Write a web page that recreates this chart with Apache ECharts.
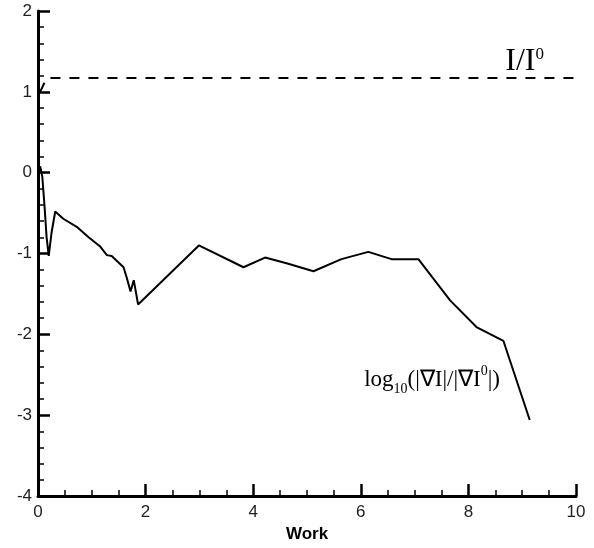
<!DOCTYPE html>
<html>
<head>
<meta charset="utf-8">
<script src="https://cdn.jsdelivr.net/npm/echarts@6/dist/echarts.min.js"></script>
<style>
  html, body { margin: 0; padding: 0; background: #fff; }
  #main { width: 594px; height: 548px; }
</style>
</head>
<body>
<div id="main"></div>
<script>
// work values (x) and log10(|grad I|/|grad I0|) (y)
var workX = [0.04, 0.08, 0.12, 0.16, 0.2, 0.25, 0.32, 0.47, 0.72, 0.94, 1.15, 1.28, 1.37, 1.59, 1.65, 1.72, 1.78, 1.86,
  2.99, 3.82, 4.22, 4.62, 5.12, 5.64, 6.14, 6.57, 7.07, 7.66, 8.15, 8.65, 9.14];
var gradLog = [0.08, -0.05, -0.4, -0.8, -1.03, -0.75, -0.48, -0.57, -0.67, -0.8, -0.91, -1.02, -1.03, -1.17, -1.3, -1.47, -1.33, -1.63,
  -0.9, -1.17, -1.05, -1.12, -1.22, -1.07, -0.98, -1.07, -1.07, -1.58, -1.91, -2.08, -3.06];
// I/I0 ratio
var ratioX = [0.04, 0.16, 10];
var ratioY = [1.0, 1.17, 1.17];

var xTicks = [0, 2, 4, 6, 8, 10];
var yTicks = [-4, -3, -2, -1, 0, 1, 2];

function pairs(xs, ys) {
  return xs.map(function (x, i) { return [x, ys[i]]; });
}

var chart = echarts.init(document.getElementById('main'), null, { renderer: 'canvas' });

var tickFont = { color: '#222', fontSize: 17, fontFamily: 'Liberation Sans' };

var option = {
  animation: false,
  backgroundColor: '#fff',
  grid: { left: 38, right: 18, top: 11, bottom: 50, containLabel: false },
  xAxis: {
    type: 'value', min: xTicks[0], max: xTicks[xTicks.length - 1], interval: 2,
    name: 'Work', nameLocation: 'middle', nameGap: 30,
    nameTextStyle: { color: '#000', fontSize: 17, fontWeight: 'bold', fontFamily: 'Liberation Sans' },
    axisLine: { show: true, onZero: false, lineStyle: { color: '#000', width: 3 } },
    axisTick: { show: true, inside: true, length: 12, lineStyle: { color: '#000', width: 2.5 } },
    minorTick: { show: true, splitNumber: 4, length: 6, lineStyle: { color: '#000', width: 1.5 } },
    axisLabel: Object.assign({ margin: 8 }, tickFont),
    splitLine: { show: false }
  },
  yAxis: {
    type: 'value', min: yTicks[0], max: yTicks[yTicks.length - 1], interval: 1,
    axisLine: { show: true, onZero: false, lineStyle: { color: '#000', width: 3 } },
    axisTick: { show: true, inside: true, length: 12, lineStyle: { color: '#000', width: 2.5 } },
    minorTick: { show: true, splitNumber: 5, length: 6, lineStyle: { color: '#000', width: 1.5 } },
    axisLabel: Object.assign({ margin: 6 }, tickFont),
    splitLine: { show: false }
  },
  series: [
    {
      name: 'I/I0', type: 'line', data: pairs(ratioX, ratioY),
      showSymbol: false, lineStyle: { color: '#000', width: 2, type: [10, 9] }
    },
    {
      name: 'grad', type: 'line', data: pairs(workX, gradLog),
      showSymbol: false, lineStyle: { color: '#000', width: 2 }
    }
  ],
  graphic: [
    {
      type: 'text', right: 50, top: 46,
      style: {
        text: '{a|I/I}{s|0}',
        rich: {
          a: { fontFamily: 'Liberation Serif', fontSize: 32, color: '#000', lineHeight: 32, verticalAlign: 'bottom' },
          s: { fontFamily: 'Liberation Serif', fontSize: 17, color: '#000', lineHeight: 32, verticalAlign: 'top' }
        }
      }
    },
    {
      type: 'text', right: 94, top: 364,
      style: {
        text: '{a|log}{b|10}{a|(|∇I|/|∇I}{s|0}{a||)}',
        rich: {
          a: { fontFamily: 'Liberation Serif', fontSize: 23, color: '#000', lineHeight: 32 },
          b: { fontFamily: 'Liberation Serif', fontSize: 14, color: '#000', lineHeight: 32, verticalAlign: 'bottom' },
          s: { fontFamily: 'Liberation Serif', fontSize: 14, color: '#000', lineHeight: 32, verticalAlign: 'top' }
        }
      }
    }
  ]
};

chart.setOption(option);
window.addEventListener('resize', function () { chart.resize(); });
</script>
</body>
</html>
